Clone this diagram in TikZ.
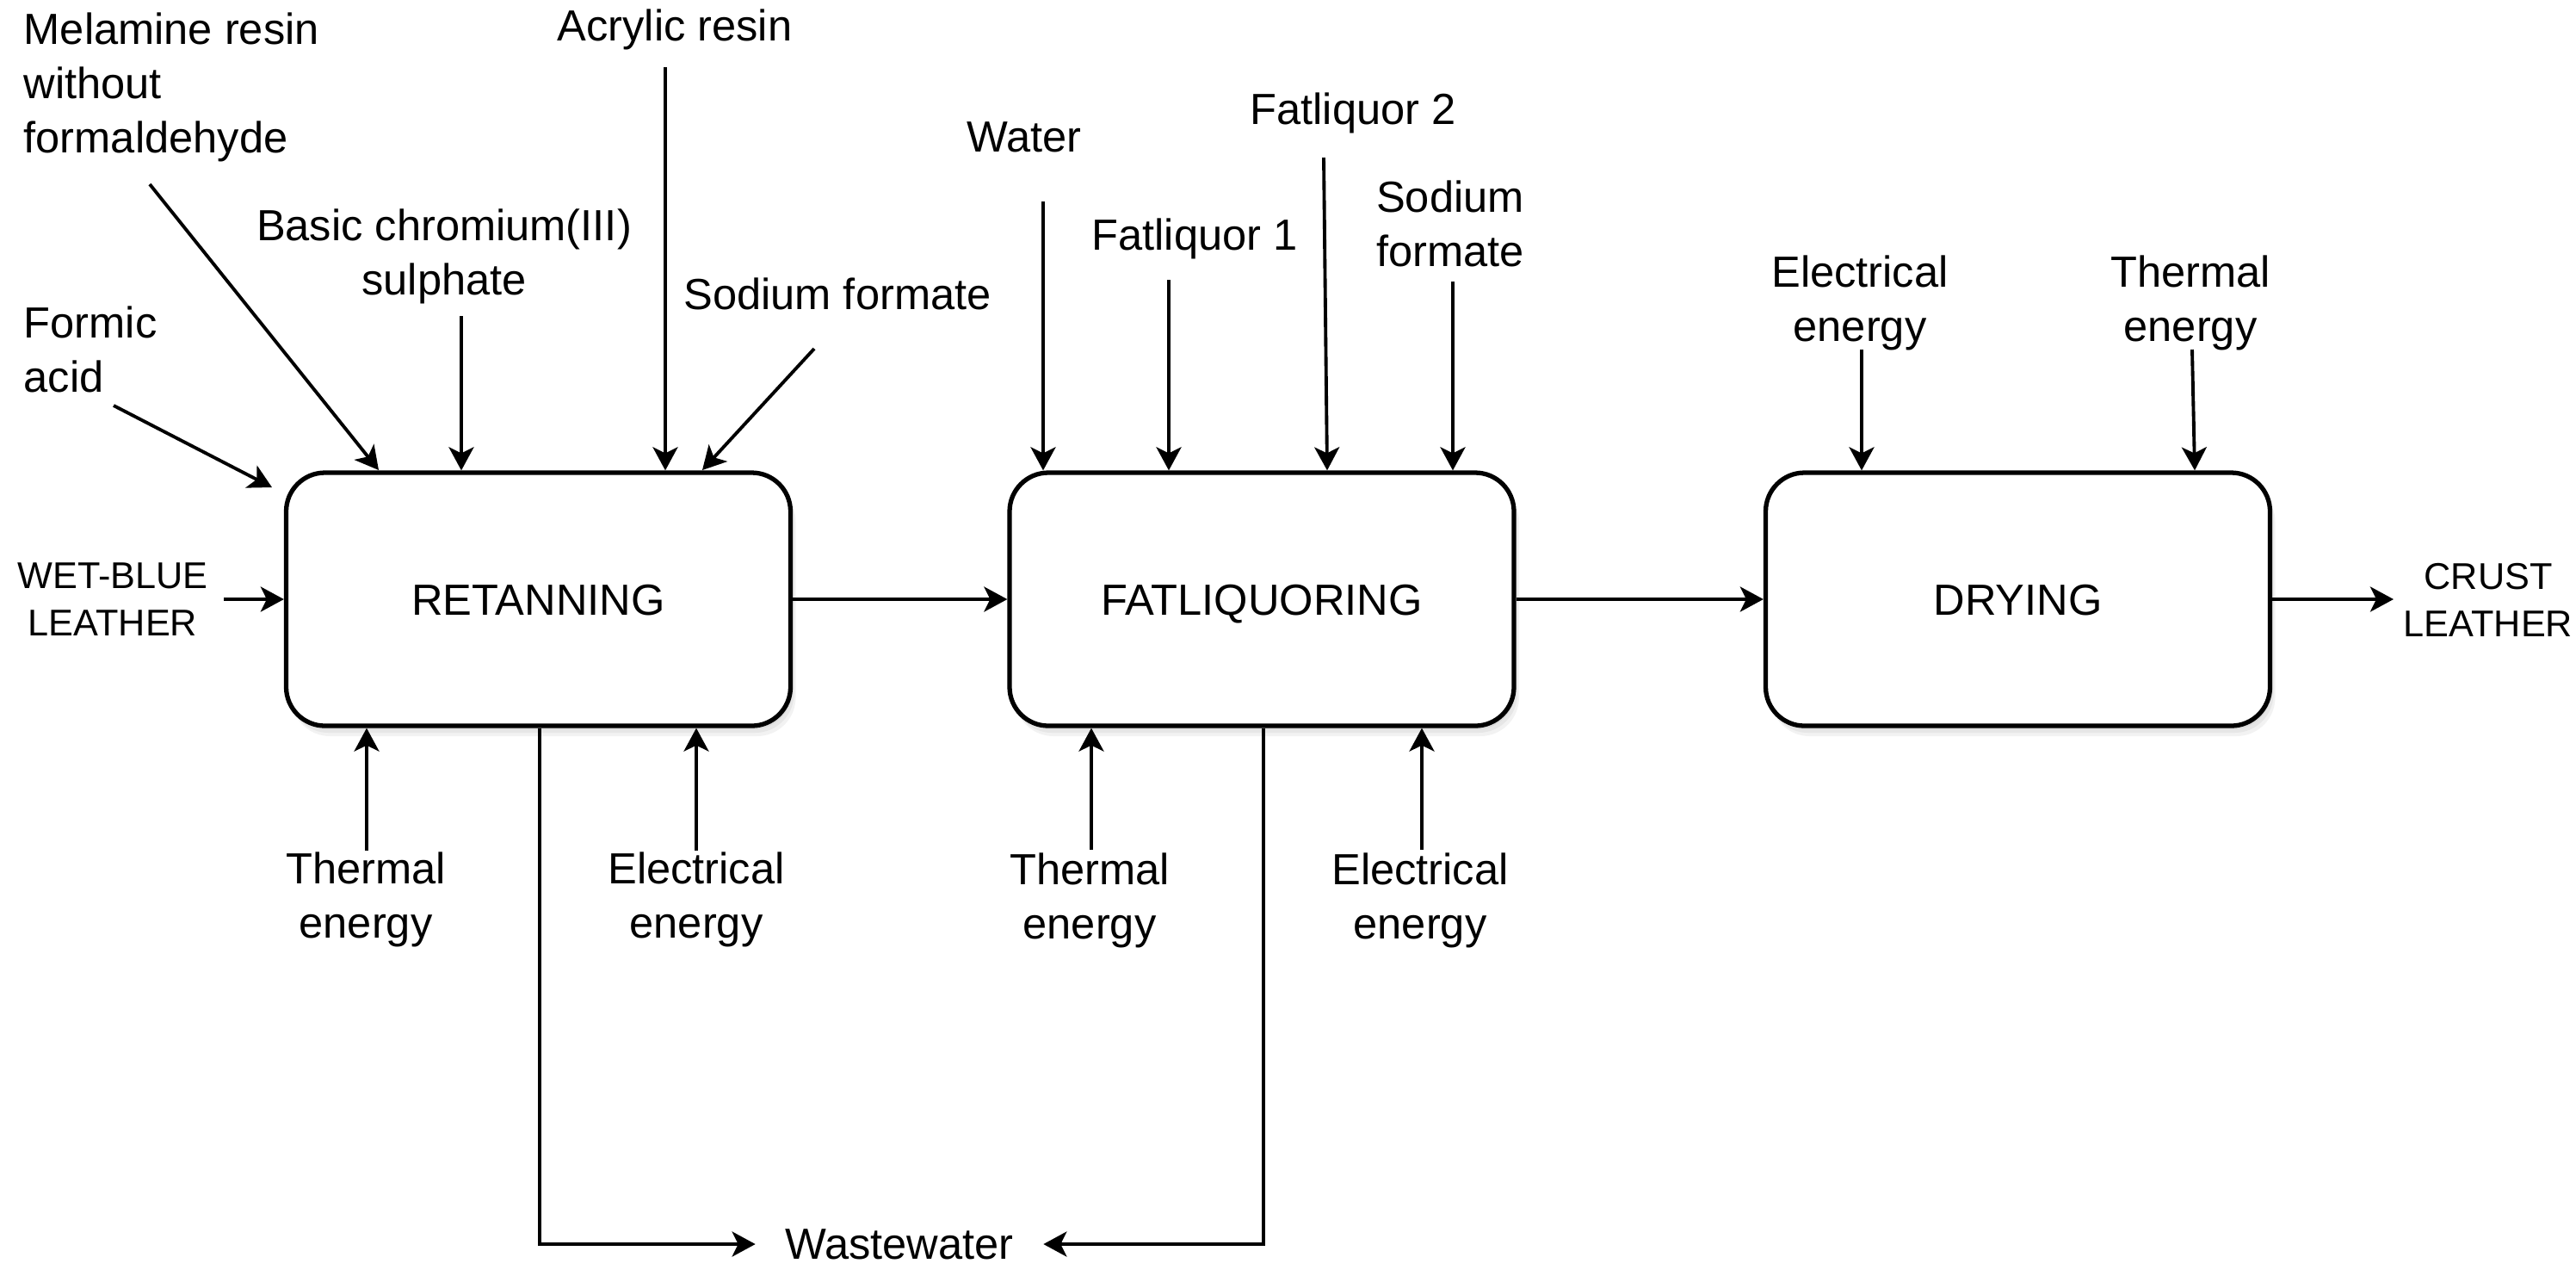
\documentclass[tikz,border=0pt]{standalone}
\usepackage{fontspec}
\setmainfont{Liberation Sans}
\usetikzlibrary{arrows.meta,calc,shadows}
\begin{document}
\begin{tikzpicture}[x=1cm,y=1cm,
  shad/.style={
    general shadow={fill=black, opacity=0.05, shadow xshift=0.02cm, shadow yshift=-0.04cm},
    general shadow={fill=black, opacity=0.05, shadow xshift=0.04cm, shadow yshift=-0.08cm},
    general shadow={fill=black, opacity=0.05, shadow xshift=0.06cm, shadow yshift=-0.12cm}},
  proc/.style={shad, draw, line width=1.5pt, rounded corners=0.45cm, minimum width=5.86cm,
    minimum height=2.94cm, fill=white, inner sep=0pt, text height=10.3pt, text depth=0pt,
    font=\fontsize{14.4}{17.9}\selectfont},
  lbl/.style={inner sep=0pt, align=center, font=\fontsize{14.4}{17.9}\selectfont},
  lbll/.style={lbl, align=left},
  small/.style={inner sep=0pt, align=center, font=\fontsize{12.3}{15.6}\selectfont},
  arr/.style={-{Stealth[length=0.27cm,width=0.29cm,inset=0.07cm]}, line width=1.1pt}
]
\useasboundingbox (0,0) rectangle (29.93,-14.88);

% process boxes
\node[proc] (R) at (6.255,-6.96) {RETANNING};
\node[proc] (F) at (14.66,-6.96) {FATLIQUORING};
\node[proc] (D) at (23.445,-6.96) {DRYING};

% labels
\node[lbll, anchor=west] (mel) at (0.27,-1.015) {Melamine resin\\without\\formaldehyde};
\node[lbll, anchor=west] (form) at (0.27,-4.055) {Formic\\acid};
\node[lbl] (bcs) at (5.16,-2.98) {Basic chromium(III)\\sulphate};
\node[lbl] (acr) at (7.84,-0.34) {Acrylic resin};
\node[lbl] (sfr) at (9.73,-3.41) {Sodium formate};
\node[small] (wbl) at (1.31,-6.965) {WET-BLUE\\LEATHER};
\node[lbl] (thR) at (4.25,-10.445) {Thermal\\energy};
\node[lbl] (elR) at (8.09,-10.445) {Electrical\\energy};
\node[lbl, inner xsep=0.34cm] (ww) at (10.45,-14.45) {Wastewater};
\node[lbl] (wat) at (11.90,-1.59) {Water};
\node[lbl] (fl1) at (13.88,-2.77) {Fatliquor 1};
\node[lbl] (fl2) at (15.72,-1.31) {Fatliquor 2};
\node[lbl] (sfF) at (16.85,-2.595) {Sodium\\formate};
\node[lbl] (thF) at (12.66,-10.46) {Thermal\\energy};
\node[lbl] (elF) at (16.50,-10.46) {Electrical\\energy};
\node[lbl] (elD) at (21.61,-3.515) {Electrical\\energy};
\node[lbl] (thD) at (25.45,-3.515) {Thermal\\energy};
\node[small] (crl) at (28.91,-6.965) {CRUST\\LEATHER};

% connector end points
\coordinate (melS) at (1.74,-2.14);  \coordinate (melE) at (4.40,-5.46);
\coordinate (bcsS) at (5.36,-3.67);
\coordinate (acrS) at (7.73,-0.78);
\coordinate (sfrS) at (9.46,-4.05);  \coordinate (sfrE) at (8.16,-5.46);
\coordinate (formS) at (1.32,-4.71); \coordinate (formE) at (3.16,-5.66);
\coordinate (wblS) at (2.60,-6.96);
\coordinate (crlE) at (27.81,-6.96);
\coordinate (thRS) at (4.26,-9.88);
\coordinate (elRS) at (8.09,-9.88);
\coordinate (wR) at (6.27,-14.45);
\coordinate (wF) at (14.68,-14.45);
\coordinate (watS) at (12.12,-2.34);
\coordinate (fl1S) at (13.58,-3.25);
\coordinate (fl2S) at (15.38,-1.83); \coordinate (fl2E) at (15.42,-5.46);
\coordinate (sfFS) at (16.88,-3.27);
\coordinate (thFS) at (12.68,-9.87);
\coordinate (elFS) at (16.52,-9.87);
\coordinate (elDS) at (21.63,-4.06);
\coordinate (thDS) at (25.47,-4.06); \coordinate (thDE) at (25.50,-5.46);

% inputs to retanning
\draw[arr] (melS) -- (melE);
\draw[arr] (bcsS) -- (bcsS |- R.north);
\draw[arr] (acrS) -- (acrS |- R.north);
\draw[arr] (sfrS) -- (sfrE);
\draw[arr] (formS) -- (formE);
\draw[arr] (wblS) -- (R.west);
\draw[arr] (thRS) -- (thRS |- R.south);
\draw[arr] (elRS) -- (elRS |- R.south);

% main flow
\draw[arr] (R.east) -- (F.west);
\draw[arr] (F.east) -- (D.west);
\draw[arr] (D.east) -- (crlE);

% wastewater
\draw[arr] (wR |- R.south) |- (ww.west);
\draw[arr] (wF |- F.south) |- (ww.east);

% inputs to fatliquoring
\draw[arr] (watS) -- (watS |- F.north);
\draw[arr] (fl1S) -- (fl1S |- F.north);
\draw[arr] (fl2S) -- (fl2E |- F.north);
\draw[arr] (sfFS) -- (sfFS |- F.north);
\draw[arr] (thFS) -- (thFS |- F.south);
\draw[arr] (elFS) -- (elFS |- F.south);

% inputs to drying
\draw[arr] (elDS) -- (elDS |- D.north);
\draw[arr] (thDS) -- (thDE |- D.north);
\end{tikzpicture}
\end{document}
